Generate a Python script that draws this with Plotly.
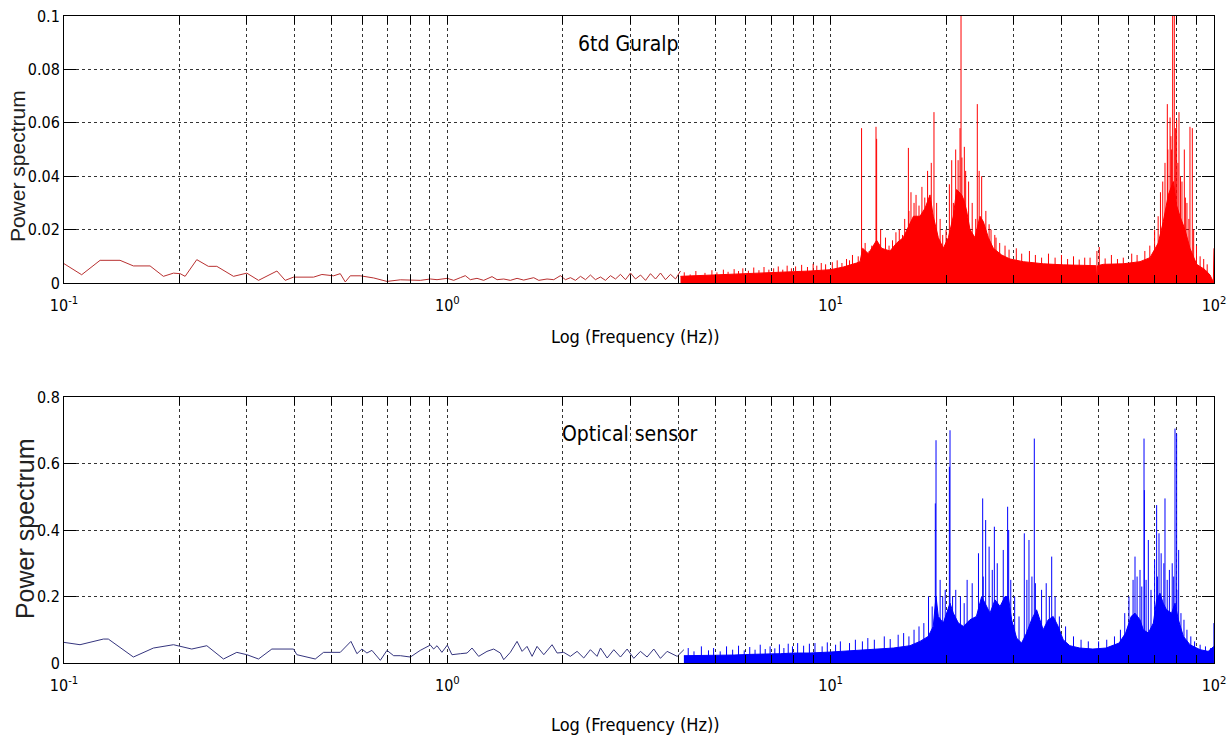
import math
import plotly.graph_objects as go
from plotly.subplots import make_subplots

# ---------------- data ----------------
# Top panel: 6td Guralp, low-frequency trace (Hz, power)
top_low_f = [0.1, 0.1112, 0.1242, 0.140, 0.1517, 0.1677, 0.1817, 0.193, 0.2009, 0.207,
             0.222, 0.238, 0.2504, 0.2768, 0.2999, 0.3217, 0.3593, 0.3776, 0.397, 0.4477,
             0.4708, 0.505, 0.5256, 0.5417, 0.5582, 0.5928, 0.6423, 0.6959, 0.754,
             0.817, 0.850, 0.903, 0.940, 1.0, 1.039, 1.081, 1.114, 1.148, 1.195,
             1.244, 1.308, 1.348, 1.403, 1.460, 1.520, 1.582, 1.680, 1.732, 1.820,
             1.895, 1.972, 2.033, 2.095, 2.159, 2.225, 2.293, 2.362, 2.434, 2.509,
             2.585, 2.664, 2.746, 2.829, 2.916, 3.005, 3.097, 3.191, 3.289, 3.388,
             3.492, 3.598, 3.708, 3.821, 3.938, 4.058]
top_low_v = [0.00725, 0.0031, 0.0085, 0.0085, 0.0064, 0.0064, 0.0025, 0.0037, 0.0035, 0.0025,
             0.00875, 0.00625, 0.00625, 0.0025, 0.0037, 0.001, 0.0045, 0.001, 0.0022, 0.0022,
             0.0032, 0.0027, 0.0035, 0.0004, 0.0027, 0.0027, 0.0019, 0.0006, 0.0012,
             0.00125, 0.001, 0.0015, 0.00125, 0.00175, 0.001, 0.002, 0.00275, 0.00125, 0.00175,
             0.001, 0.0024, 0.00125, 0.0015, 0.001, 0.00175, 0.0011, 0.002, 0.001, 0.0015,
             0.00125, 0.00275, 0.00125, 0.002, 0.001, 0.0025, 0.00125, 0.003, 0.00125, 0.00225,
             0.001, 0.00275, 0.0015, 0.00325, 0.00125, 0.00375, 0.0015, 0.003, 0.001, 0.0035,
             0.0015, 0.00375, 0.00125, 0.00325, 0.0015, 0.0045]

# Top panel: upper edge of the dense band
top_env_f = [4.058, 4.6, 5.1, 5.6, 6.2, 6.8, 7.4, 8.0, 8.834, 10.0, 10.79, 11.69, 11.93, 12.12,
             12.54, 13.18, 13.58, 14.28, 14.87, 15.47, 15.95, 16.44, 17.10, 17.63, 18.16,
             18.52, 19.09, 19.67, 20.28, 20.89, 21.32, 21.97, 22.27, 22.63, 23.09, 23.79,
             24.52, 25.02, 25.78, 26.57, 27.93, 29.36, 31.81, 35.87, 40.46, 45.62, 49.2,
             49.42, 49.7, 51.44, 58.01, 64.12, 68.08, 71.56, 73.75, 76.0, 78.32, 79.90,
             81.51, 84.0, 86.56, 90.10, 94.74, 97.63, 99.61, 100.0]
top_env_v = [0.0025, 0.0028, 0.003, 0.0032, 0.0035, 0.0036, 0.0038, 0.004, 0.0045, 0.005, 0.006,
             0.0075, 0.008, 0.013, 0.011, 0.016, 0.013, 0.012, 0.015, 0.017, 0.021, 0.025,
             0.025, 0.028, 0.033, 0.025, 0.017, 0.013, 0.017, 0.025, 0.035, 0.033, 0.031,
             0.027, 0.02, 0.017, 0.025, 0.023, 0.017, 0.013, 0.0105, 0.009, 0.008, 0.0072,
             0.0068, 0.0065, 0.0065, 0.001, 0.0065, 0.007, 0.0072, 0.008, 0.0095, 0.015,
             0.023, 0.033, 0.038, 0.029, 0.025, 0.02, 0.013, 0.007, 0.005, 0.003, 0.0004,
             0.013]

# Top panel: sharp peaks (Hz, power)
top_peak_f = [12.04, 13.13, 13.18, 15.95, 18.60, 20.69, 21.19, 21.75, 21.88, 22.32, 24.13,
              24.77, 49.5, 75.55, 77.54, 78.01, 78.79, 79.90, 81.03, 83.67, 86.56, 87.79]
top_peak_v = [0.058, 0.0585, 0.054, 0.0506, 0.064, 0.046, 0.050, 0.058, 0.105, 0.051, 0.067,
              0.040, 0.012, 0.067, 0.050, 0.105, 0.105, 0.061, 0.064, 0.050, 0.0585, 0.058]
# Top panel: the many small spikes that form the ragged top of the band
top_minor_f = [4.15, 4.3, 4.45, 4.7, 4.9, 5.05, 5.25, 5.4, 5.6, 5.75, 5.9, 6.1, 6.3, 6.5, 6.7,
               6.9, 7.1, 7.3, 7.5, 7.7, 7.9, 8.1, 8.4, 8.7, 9.0, 9.2, 9.45, 9.7, 10.1, 10.4,
               10.7, 11.0, 11.2, 11.4, 11.8, 12.3, 12.6, 12.8, 13.5, 13.9, 14.2, 14.5, 14.8,
               15.1, 15.4, 15.6, 16.0, 16.2, 16.5, 16.7, 17.0, 17.3, 17.6, 17.9, 18.3, 18.9,
               19.3, 19.6, 20.0, 20.4, 20.9, 21.5, 22.0, 22.5, 22.9, 23.4, 23.9, 24.4, 25.4,
               25.9, 26.2, 26.8, 27.0, 27.6, 28.5, 29.2, 30.5, 31.5, 33.0, 34.2, 35.5, 37.0,
               38.5, 40.0, 41.5, 43.0, 44.5, 46.0, 47.5, 50.2, 52.0, 54.0, 56.0, 58.0, 61.0,
               63.0, 66.0, 68.0, 70.0, 71.5, 72.5, 73.5, 74.5, 75.8, 76.8, 77.2, 79.3, 80.5,
               81.8, 82.5, 84.2, 85.0, 86.0, 88.5, 90.0, 92.0, 94.0, 96.0]
top_minor_v = [0.004, 0.0032, 0.0045, 0.0038, 0.0048, 0.004, 0.005, 0.0042, 0.0052, 0.0045,
               0.0055, 0.0046, 0.0058, 0.0048, 0.006, 0.005, 0.0055, 0.0062, 0.005, 0.0065,
               0.0055, 0.0062, 0.0068, 0.006, 0.0072, 0.0065, 0.0075, 0.007, 0.0078, 0.0085,
               0.0075, 0.009, 0.0085, 0.0105, 0.01, 0.015, 0.012, 0.014, 0.02, 0.017, 0.014,
               0.016, 0.019, 0.02, 0.018, 0.024, 0.027, 0.034, 0.03, 0.033, 0.029, 0.036,
               0.032, 0.042, 0.045, 0.03, 0.024, 0.018, 0.02, 0.037, 0.03, 0.046, 0.047,
               0.042, 0.038, 0.03, 0.024, 0.042, 0.027, 0.022, 0.02, 0.018, 0.017, 0.015,
               0.014, 0.0125, 0.013, 0.011, 0.012, 0.0105, 0.0095, 0.011, 0.0095, 0.0105,
               0.009, 0.01, 0.0088, 0.0095, 0.0095, 0.0135, 0.0092, 0.0105, 0.009, 0.0095,
               0.011, 0.0105, 0.012, 0.014, 0.02, 0.025, 0.034, 0.038, 0.045, 0.05, 0.062,
               0.055, 0.058, 0.045, 0.04, 0.038, 0.032, 0.03, 0.024, 0.02, 0.014, 0.01, 0.009,
               0.007]

# Bottom panel: optical sensor, low-frequency trace
bot_low_f = [0.1, 0.1101, 0.1267, 0.1305, 0.1517, 0.1711, 0.193, 0.2154, 0.2358, 0.2606,
             0.2823, 0.2999, 0.3217, 0.3485, 0.397, 0.405, 0.4523, 0.4755, 0.5256, 0.5605,
             0.5810, 0.5987, 0.6169, 0.6357, 0.6687, 0.6959, 0.7244, 0.754, 0.8009, 0.850,
             0.903, 0.921, 0.940, 0.968, 1.0, 1.028, 1.081, 1.126, 1.160, 1.207, 1.269, 1.321,
             1.375, 1.403, 1.460, 1.520, 1.567, 1.614, 1.664, 1.714, 1.785, 1.876, 1.934,
             2.012, 2.094, 2.180, 2.269, 2.362, 2.458, 2.509, 2.612, 2.718, 2.829, 2.945,
             3.065, 3.190, 3.320, 3.456, 3.597, 3.744, 3.978, 4.141]
bot_low_v = [0.062, 0.055, 0.072, 0.072, 0.018, 0.045, 0.055, 0.042, 0.052, 0.012, 0.032,
             0.025, 0.012, 0.042, 0.042, 0.025, 0.012, 0.032, 0.032, 0.065, 0.028, 0.042,
             0.030, 0.038, 0.008, 0.038, 0.022, 0.022, 0.018, 0.038,
             0.054, 0.042, 0.052, 0.032, 0.054, 0.025, 0.028, 0.030, 0.045, 0.020, 0.035,
             0.042, 0.030, 0.010, 0.032, 0.065, 0.035, 0.050, 0.020, 0.050, 0.025, 0.055,
             0.030, 0.032, 0.020, 0.035, 0.015, 0.040, 0.020, 0.045, 0.015, 0.040, 0.018,
             0.042, 0.014, 0.035, 0.018, 0.042, 0.014, 0.035, 0.020, 0.040]

bot_env_f = [4.141, 4.6, 5.1, 5.6, 6.2, 6.8, 7.4, 8.0, 8.834, 10.0, 10.79, 11.93, 13.18, 14.57,
             16.10, 17.10, 17.97, 18.52, 18.83, 19.09, 19.67, 20.48, 20.89, 21.54, 22.21, 23.09,
             24.0, 24.77, 25.27, 26.04, 26.84, 27.66, 28.50, 29.07, 29.65, 30.55, 31.48, 32.44,
             33.43, 34.45, 35.14, 35.84, 36.94, 38.06, 39.22, 40.42, 42.06, 44.64, 48.30,
             52.26, 56.55, 58.82, 60.79, 62.22, 64.12, 65.40, 67.41, 69.48, 70.85, 72.27,
             73.70, 75.17, 77.54, 79.12, 80.74, 83.21, 86.56, 91.98, 96.56, 99.96]
bot_env_v = [0.022, 0.022, 0.024, 0.024, 0.026, 0.026, 0.028, 0.03, 0.03, 0.033, 0.035, 0.038,
             0.042, 0.045, 0.052, 0.065, 0.08, 0.11, 0.2, 0.14, 0.12, 0.18, 0.15, 0.12, 0.11,
             0.13, 0.14, 0.2, 0.18, 0.15, 0.19, 0.17, 0.2, 0.2, 0.13, 0.075, 0.06, 0.09,
             0.13, 0.16, 0.13, 0.1, 0.13, 0.14, 0.11, 0.07, 0.052, 0.045, 0.042, 0.045,
             0.06, 0.09, 0.14, 0.15, 0.13, 0.1, 0.09, 0.12, 0.19, 0.21, 0.18, 0.16, 0.15,
             0.18, 0.13, 0.08, 0.055, 0.04, 0.035, 0.05]

bot_peak_f = [18.75, 18.83, 19.60, 20.40, 20.48, 24.92, 25.37, 26.73, 28.95, 29.13, 32.00,
              32.91, 33.98, 37.72, 62.22, 64.12, 65.68, 65.81, 67.41, 70.85, 71.86, 74.50,
              79.12, 79.90, 80.87, 99.96]
bot_peak_v = [0.48, 0.67, 0.20, 0.59, 0.70, 0.495, 0.43, 0.41, 0.47, 0.40, 0.39, 0.37, 0.675,
              0.32, 0.32, 0.28, 0.675, 0.52, 0.37, 0.475, 0.39, 0.495, 0.705, 0.69, 0.34, 0.12]
bot_minor_f = [4.25, 4.4, 4.6, 4.8, 4.95, 5.15, 5.35, 5.55, 5.75, 5.95, 6.15, 6.35, 6.55, 6.75,
               6.95, 7.15, 7.35, 7.55, 7.75, 7.95, 8.2, 8.5, 8.8, 9.1, 9.5, 9.8, 10.3, 10.6,
               11.2, 11.6, 12.1, 12.5, 13.0, 13.8, 14.3, 15.0, 15.5, 16.0, 16.5, 17.0, 17.5,
               18.0, 18.4, 19.3, 19.9, 20.8, 21.2, 21.8, 22.3, 22.7, 23.4, 24.3, 25.0, 25.9,
               26.4, 27.2, 28.2, 29.5, 30.2, 31.0, 32.5, 33.5, 34.2, 35.5, 36.5, 37.2, 38.5,
               39.5, 41.0, 43.0, 45.0, 47.0, 50.0, 52.5, 55.0, 57.0, 58.5, 60.0, 61.5, 63.0,
               64.8, 66.5, 68.5, 70.0, 71.2, 72.8, 74.0, 75.5, 76.5, 77.8, 78.5, 80.0, 82.0,
               83.5, 85.0, 87.0, 89.0, 92.0, 95.0, 98.0]
bot_minor_v = [0.045, 0.035, 0.05, 0.038, 0.045, 0.035, 0.05, 0.04, 0.052, 0.038, 0.048, 0.04,
               0.055, 0.042, 0.05, 0.044, 0.056, 0.045, 0.058, 0.05, 0.06, 0.052, 0.058, 0.06,
               0.05, 0.062, 0.055, 0.065, 0.06, 0.07, 0.065, 0.075, 0.07, 0.08, 0.072, 0.085,
               0.09, 0.08, 0.1, 0.11, 0.12, 0.2, 0.17, 0.25, 0.22, 0.2, 0.22, 0.2, 0.18, 0.25,
               0.24, 0.33, 0.26, 0.35, 0.28, 0.3, 0.34, 0.25, 0.2, 0.14, 0.25, 0.26, 0.24,
               0.22, 0.24, 0.2, 0.2, 0.14, 0.11, 0.08, 0.07, 0.065, 0.065, 0.07, 0.08, 0.1,
               0.15, 0.2, 0.25, 0.26, 0.23, 0.25, 0.22, 0.31, 0.26, 0.33, 0.3, 0.25, 0.28, 0.3,
               0.26, 0.22, 0.15, 0.13, 0.1, 0.08, 0.065, 0.055, 0.05, 0.045]

x_tick_vals = [0.1, 0.2, 0.3, 0.4, 0.5, 0.6, 0.7, 0.8, 0.9,
               1, 2, 3, 4, 5, 6, 7, 8, 9,
               10, 20, 30, 40, 50, 60, 70, 80, 90, 100]
decade_labels = {0.1: "10<sup>-1</sup>", 1: "10<sup>0</sup>", 10: "10<sup>1</sup>", 100: "10<sup>2</sup>"}
top_y_ticks = [0, 0.02, 0.04, 0.06, 0.08, 0.1]
top_y_text = ["0", "0.02", "0.04", "0.06", "0.08", "0.1"]
bot_y_ticks = [0, 0.2, 0.4, 0.6, 0.8]
bot_y_text = ["0", "0.2", "0.4", "0.6", "0.8"]

# ---------------- figure ----------------
NARROW = "DejaVu Sans Condensed, Liberation Sans Narrow, Arial Narrow, sans-serif"
REG = "Liberation Sans, Arial, sans-serif"

fig = make_subplots(rows=2, cols=1)


def segs(fs, vs):
    xs, ys = [], []
    for f, v in zip(fs, vs):
        xs += [f, f, None]
        ys += [0, v, None]
    return xs, ys


def add_panel(row, env_f, env_v, minor_f, minor_v, peak_f, peak_v, low_f, low_v, dense, thin):
    fig.add_trace(go.Scatter(x=env_f, y=env_v, mode="lines", fill="tozeroy",
                             fillcolor=dense, line=dict(color=dense, width=1),
                             showlegend=False, hoverinfo="skip"), row=row, col=1)
    mx, my = segs(minor_f, minor_v)
    fig.add_trace(go.Scatter(x=mx, y=my, mode="lines", line=dict(color=dense, width=1),
                             showlegend=False, hoverinfo="skip"), row=row, col=1)
    px, py = segs(peak_f, peak_v)
    fig.add_trace(go.Scatter(x=px, y=py, mode="lines", line=dict(color=dense, width=1),
                             showlegend=False, hoverinfo="skip"), row=row, col=1)
    fig.add_trace(go.Scatter(x=low_f, y=low_v, mode="lines", line=dict(color=thin, width=1),
                             showlegend=False, hoverinfo="skip"), row=row, col=1)


add_panel(1, top_env_f, top_env_v, top_minor_f, top_minor_v, top_peak_f, top_peak_v,
          top_low_f, top_low_v, "#ff0000", "#b83030")
add_panel(2, bot_env_f, bot_env_v, bot_minor_f, bot_minor_v, bot_peak_f, bot_peak_v,
          bot_low_f, bot_low_v, "#0000ff", "#35357e")

x_text = [decade_labels.get(v, "") for v in x_tick_vals]
common_x = dict(type="log", range=[-1, 2], tickmode="array", tickvals=x_tick_vals,
                ticktext=x_text, ticks="inside", ticklen=8, tickcolor="black",
                showline=True, linecolor="black", linewidth=1, mirror="ticks",
                showgrid=True, gridcolor="#333333", griddash="dot", gridwidth=1,
                zeroline=False, automargin=False, ticklabelstandoff=8,
                tickfont=dict(family=NARROW, size=16, color="black"))
common_y = dict(ticks="inside", ticklen=12, tickcolor="black", showline=True,
                linecolor="black", linewidth=1, mirror="ticks", showgrid=True,
                gridcolor="#333333", griddash="dot", gridwidth=1, zeroline=False,
                automargin=False,
                tickfont=dict(family=NARROW, size=16, color="black"), tickmode="array")

fig.update_xaxes(**common_x)
fig.update_yaxes(**common_y)
fig.update_yaxes(range=[0, 0.1], tickvals=top_y_ticks, ticktext=top_y_text, row=1, col=1)
fig.update_yaxes(range=[0, 0.8], tickvals=bot_y_ticks, ticktext=bot_y_text, row=2, col=1)
fig.update_layout(
    xaxis=dict(domain=[0, 1]), xaxis2=dict(domain=[0, 1]),
    yaxis=dict(domain=[0.5873, 1.0]), yaxis2=dict(domain=[0.0, 0.4111]),
)

annotations = [
    dict(text="6td Guralp", x=math.log10(2.97), y=0.0895, xref="x", yref="y",
         xanchor="center", yanchor="middle",
         showarrow=False, font=dict(family=NARROW, size=21, color="black")),
    dict(text="Optical sensor", x=math.log10(3.0), y=0.689, xref="x2", yref="y2",
         xanchor="center", yanchor="middle",
         showarrow=False, font=dict(family=NARROW, size=21, color="black")),
    dict(text="Log (Frequency (Hz))", x=0.497, y=0.5054, xref="paper", yref="paper",
         xanchor="center", yanchor="middle",
         showarrow=False, font=dict(family=NARROW, size=18, color="black")),
    dict(text="Log (Frequency (Hz))", x=0.497, y=-0.0943, xref="paper", yref="paper",
         xanchor="center", yanchor="middle",
         showarrow=False, font=dict(family=NARROW, size=18, color="black")),
    dict(text="Power spectrum", x=-0.0409, y=0.768, xref="paper", yref="paper",
         xanchor="center", yanchor="middle",
         textangle=-90, showarrow=False, font=dict(family=REG, size=21, color="#222222")),
    dict(text="Power spectrum", x=-0.0339, y=0.207, xref="paper", yref="paper",
         xanchor="center", yanchor="middle",
         textangle=-90, showarrow=False, font=dict(family=REG, size=25, color="#222222")),
]

fig.update_layout(width=1231, height=738, margin=dict(l=64, r=17, t=16, b=75),
                  paper_bgcolor="white", plot_bgcolor="white",
                  annotations=annotations, showlegend=False)

fig.write_html("out.html", config={"displayModeBar": False},
               post_script="document.body.style.margin='0';document.body.style.overflow='hidden';")
